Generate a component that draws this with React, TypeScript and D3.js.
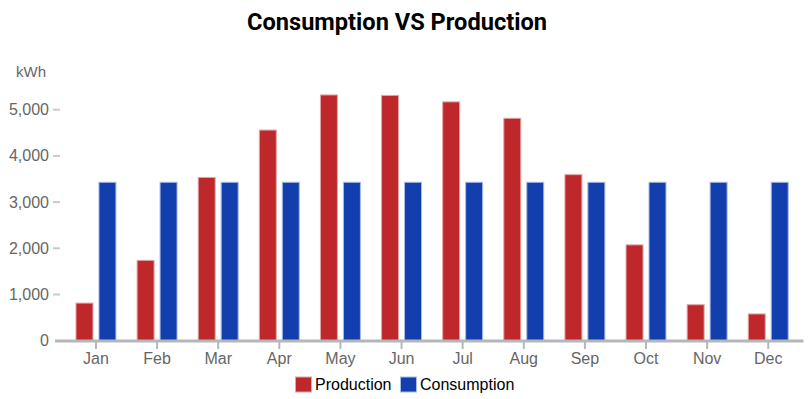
import React from "react";
import * as d3 from "d3";

const months = ["Jan", "Feb", "Mar", "Apr", "May", "Jun", "Jul", "Aug", "Sep", "Oct", "Nov", "Dec"];
const production = [825, 1750, 3545, 4570, 5330, 5320, 5180, 4825, 3605, 2085, 790, 590];
const consumption = [3440, 3440, 3440, 3440, 3440, 3440, 3440, 3440, 3440, 3440, 3440, 3440];
const seriesNames = ["Production", "Consumption"];
const seriesFill = ["#bf282a", "#133fae"];
const seriesStroke = ["#e3a5a6", "#a9b9e6"];
const yTicks = [0, 1000, 2000, 3000, 4000, 5000];

const W = 811;
const H = 399;

export default function App() {
  const y = d3.scaleLinear().domain([0, 5000]).range([340.7, 109.7]);
  const x = d3
    .scaleBand<string>()
    .domain(months)
    .range([65.4, 798.8])
    .paddingInner(0.33)
    .paddingOuter(0.165);
  const inner = d3
    .scaleBand<string>()
    .domain(seriesNames)
    .range([0, x.bandwidth()])
    .paddingInner(0.217);
  const fmt = d3.format(",");
  const data = [production, consumption];

  return (
    <svg
      width={W}
      height={H}
      style={{ position: "absolute", left: 0, top: 0, fontFamily: "'Liberation Sans', Arial, sans-serif" }}
    >
      <rect width={W} height={H} fill="#ffffff" />
      <text
        x={397}
        y={29.5}
        textAnchor="middle"
        fontFamily="Roboto"
        fontWeight="bold"
        fontSize={24.5}
        textLength={300}
        lengthAdjust="spacingAndGlyphs"
        fill="#000"
      >
        Consumption VS Production
      </text>
      <text x={16} y={76.5} fontSize={15} fill="#666">
        kWh
      </text>
      {yTicks.map((t) => (
        <g key={t}>
          <text x={49} y={y(t) + 5.5} textAnchor="end" fontSize={16} fill="#666">
            {fmt(t)}
          </text>
          {t > 0 && <line x1={53} x2={60} y1={y(t)} y2={y(t)} stroke="#c8cacc" strokeWidth={2} />}
        </g>
      ))}
      {data.map((vals, si) =>
        vals.map((v, i) => {
          const bx = (x(months[i]) as number) + (inner(seriesNames[si]) as number);
          return (
            <rect
              key={`${si}-${i}`}
              x={bx + 0.5}
              y={y(v) + 0.5}
              width={inner.bandwidth() - 1}
              height={y(0) - y(v) - 0.5}
              fill={seriesFill[si]}
              stroke={seriesStroke[si]}
              strokeWidth={1}
            />
          );
        })
      )}
      <line x1={55} x2={803.5} y1={341} y2={341} stroke="#b4b7ba" strokeWidth={3} />
      {months.map((m) => {
        const cx = (x(m) as number) + x.bandwidth() / 2;
        return (
          <g key={m}>
            <line x1={cx} x2={cx} y1={342} y2={349} stroke="#b4b7ba" strokeWidth={2} />
            <text x={cx} y={364} textAnchor="middle" fontSize={16} fill="#666">
              {m}
            </text>
          </g>
        );
      })}
      {seriesNames.map((s, i) => {
        const lx = [295, 400][i];
        return (
          <g key={s}>
            <rect x={lx + 0.5} y={377} width={16} height={15} fill={seriesFill[i]} stroke={seriesStroke[i]} strokeWidth={1} />
            <text x={lx + 20} y={390} fontSize={16} fill="#000">
              {s}
            </text>
          </g>
        );
      })}
    </svg>
  );
}
